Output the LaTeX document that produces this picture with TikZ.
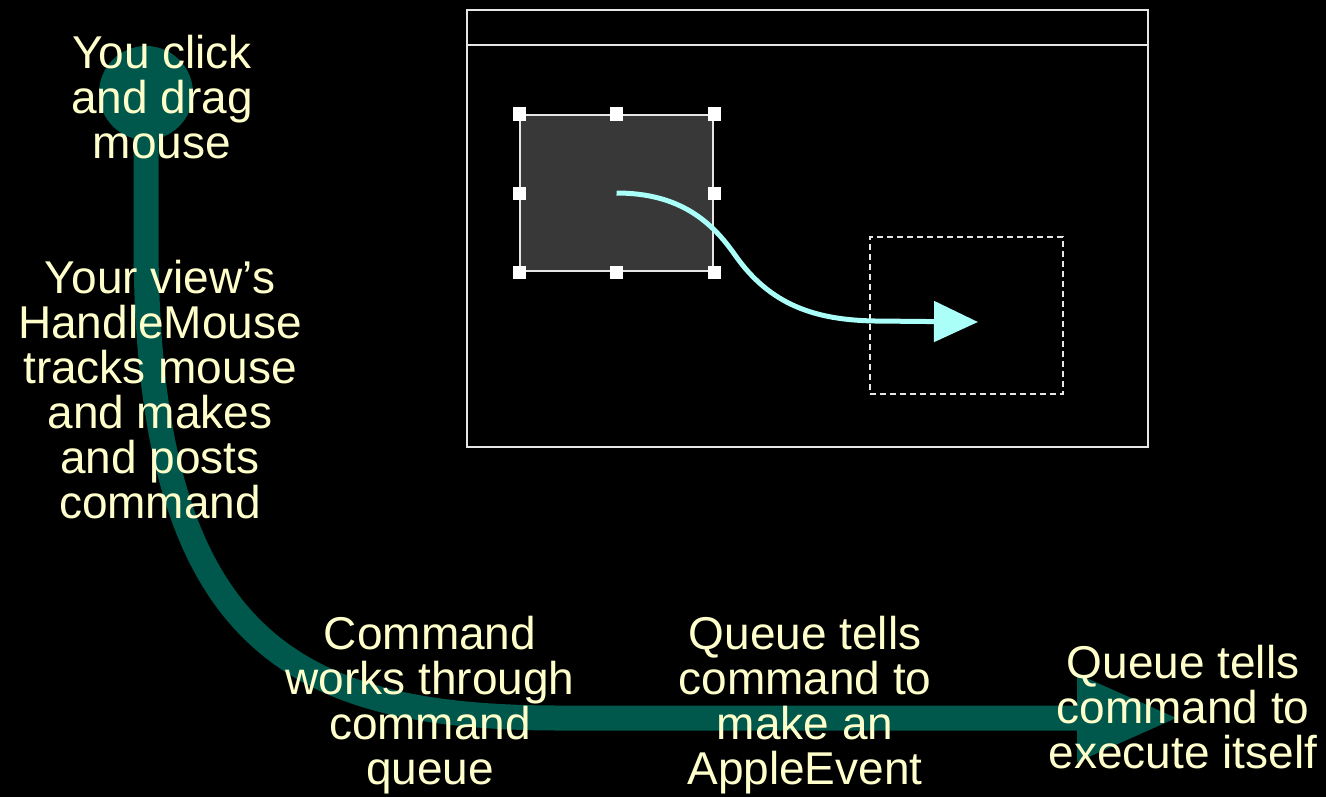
\documentclass[tikz,border=0pt]{standalone}
\usepackage{fontspec}
\setmainfont{Liberation Sans}
\usepackage{xcolor}
\usepackage{tikz}
\usetikzlibrary{arrows.meta}
\definecolor{cream}{HTML}{FFFFCC}
\definecolor{flow}{HTML}{00574B}
\definecolor{drag}{HTML}{AAFFF8}
\definecolor{frame}{HTML}{E6E6E6}
\definecolor{shade}{HTML}{383838}
\tikzset{
  flowline/.style={draw=flow, line width=12.5pt},
  winline/.style={draw=frame, line width=1pt},
  handlebox/.style={fill=white, minimum size=6.5pt, inner sep=0pt},
  dragline/.style={draw=drag, line width=2.5pt},
  lbl/.style={text=cream, align=center, inner sep=0pt, font=\fontsize{23}{22.5}\selectfont}
}

\begin{document}
\begin{tikzpicture}[x=0.5pt, y=-0.5pt]
  \fill[black] (0,0) rectangle (1326,797);
  \useasboundingbox (0,0) rectangle (1326,797);

  % window
  \draw[winline] (467,10) rectangle (1148,447);
  \draw[winline] (467,45) -- (1148,45);

  \node[draw=frame, line width=1pt, fill=shade, minimum width=96.5pt, minimum height=78pt, inner sep=0pt] (sel) at (616.5,193) {};
  \foreach \a [count=\i] in {north west,north,north east,east,south east,south,south west,west}
    \node[handlebox] (h\i) at (sel.\a) {};
  \node[draw=frame, line width=1pt, dash pattern=on 3pt off 2pt, minimum width=96.5pt, minimum height=78.5pt, inner sep=0pt] (target) at (966,315.5) {};

  \coordinate (drop) at (978,322);
  \draw[dragline, -{Triangle[length=22pt,width=20pt]}] (sel.center) .. controls (680,193) and (712,222) .. (735,255)
    .. controls (770,305) and (815,320) .. (875,321) -- (drop);

  % flow of the event
  \coordinate (start) at (146,93);
  \coordinate (finish) at (1180,718);
  \fill[flow] (start) circle[radius=23.5pt];
  \draw[flowline, -{Triangle[length=51.5pt,width=40pt]}] (start) -- (146,240)
    .. controls (146,640) and (290,718) .. (560,718) -- (finish);

  \node[lbl] (click) at (162,97) {You click\\and drag\\mouse};
  \node[lbl] (track) at (160,390) {Your view’s\\HandleMouse\\tracks mouse\\and makes\\and posts\\command};
  \node[lbl] (works) at (430,705) {Command\\works through\\command\\queue};
  \node[lbl] (make) at (805,705) {Queue tells\\command to\\make an\\AppleEvent};
  \node[lbl] (exec) at (1183,707) {Queue tells\\command to\\execute itself};
\end{tikzpicture}
\end{document}
